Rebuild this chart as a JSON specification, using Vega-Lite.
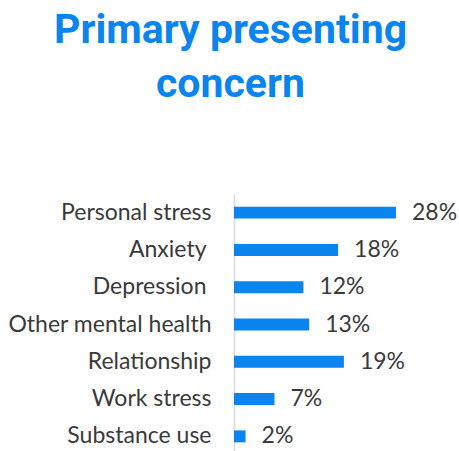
{
  "$schema": "https://vega.github.io/schema/vega-lite/v6.json",
  "autosize": {"type": "none"},
  "padding": {"left": 234, "top": 194, "right": 0, "bottom": 0},
  "width": 225,
  "height": 261,
  "background": "white",
  "title": {
    "text": ["Primary presenting", "concern"],
    "font": "Roboto",
    "fontSize": 41,
    "fontWeight": "bold",
    "color": "#0A84EE",
    "lineHeight": 54,
    "anchor": "middle",
    "frame": "group",
    "dx": -116,
    "offset": 88
  },
  "data": {
    "values": [
      {"concern": "Personal stress", "pct": 0.28},
      {"concern": "Anxiety", "pct": 0.18},
      {"concern": "Depression", "pct": 0.12},
      {"concern": "Other mental health", "pct": 0.13},
      {"concern": "Relationship", "pct": 0.19},
      {"concern": "Work stress", "pct": 0.07},
      {"concern": "Substance use", "pct": 0.02}
    ]
  },
  "encoding": {
    "y": {
      "field": "concern",
      "type": "nominal",
      "sort": null,
      "title": null,
      "scale": {"paddingInner": 0.68, "paddingOuter": 0.34},
      "axis": {
        "domainColor": "#D8D8F4",
        "domainWidth": 1.5,
        "ticks": false,
        "labelFont": "Lato",
        "labelFontSize": 23,
        "labelColor": "#3A3A3A",
        "labelPadding": {"condition": {"test": "datum.value === 'Anxiety' || datum.value === 'Depression'", "value": 28}, "value": 23},
        "labelLimit": 300
      }
    },
    "x": {
      "field": "pct",
      "type": "quantitative",
      "scale": {"domain": [0, 0.389], "nice": false},
      "axis": null
    }
  },
  "layer": [
    {"mark": {"type": "bar", "color": "#0A84EE", "cornerRadius": 0}},
    {
      "mark": {"type": "text", "align": "left", "baseline": "middle", "dx": 16, "font": "Lato", "fontSize": 23, "color": "#3A3A3A"},
      "encoding": {"text": {"field": "pct", "format": ".0%"}}
    }
  ],
  "config": {"view": {"stroke": null}}
}
